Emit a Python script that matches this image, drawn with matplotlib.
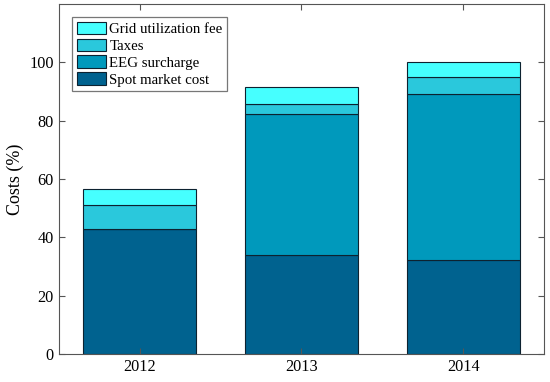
import numpy as np
import matplotlib
matplotlib.use('Agg')
from matplotlib import pyplot as plt

plt.rcParams['font.family'] = ['Liberation Serif', 'DejaVu Serif']

#data
years = ['2012', '2013', '2014']
spot = [43.0, 33.8, 32.4]
eeg = [0.0, 48.3, 56.8]
taxes = [8.0, 3.5, 5.9]
grid = [5.5, 5.9, 4.9]

series = [('Spot market cost', spot, '#00628f'),
          ('EEG surcharge', eeg, '#0099bc'),
          ('Taxes', taxes, '#2ac8dc'),
          ('Grid utilization fee', grid, '#46ffff')]

fig = plt.figure(figsize=(5.5, 3.82), dpi=100)
ax = fig.add_axes([0.107, 0.073, 0.882, 0.917])

x = np.arange(1, len(years) + 1)
bottom = np.zeros(len(years))
handles = []
for name, vals, col in series:
    vals = np.array(vals)
    h = ax.bar(x, vals, 0.7, bottom=bottom, color=col, edgecolor='#0d2230',
               linewidth=0.8, label=name)
    handles.append(h)
    bottom += vals

ax.set_xlim(0.5, 3.5)
ax.set_ylim(0, 120)
ax.set_xticks(x)
ax.set_xticklabels(years)
ax.set_yticks([0, 20, 40, 60, 80, 100])
ax.set_ylabel('Costs (%)', fontsize=13)
ax.tick_params(direction='in', top=True, right=True, labelsize=11.7,
               color='#555555', length=4)
for s in ax.spines.values():
    s.set_color('#555555')

leg = ax.legend(handles[::-1], [s[0] for s in series][::-1], loc='upper left',
                fontsize=10.7, fancybox=False, edgecolor='#555555',
                borderpad=0.3, labelspacing=0.16, handlelength=2.0,
                handleheight=0.95, handletextpad=0.2, borderaxespad=0.9)
leg.get_frame().set_linewidth(0.9)

fig.savefig('out.png', dpi=100)
